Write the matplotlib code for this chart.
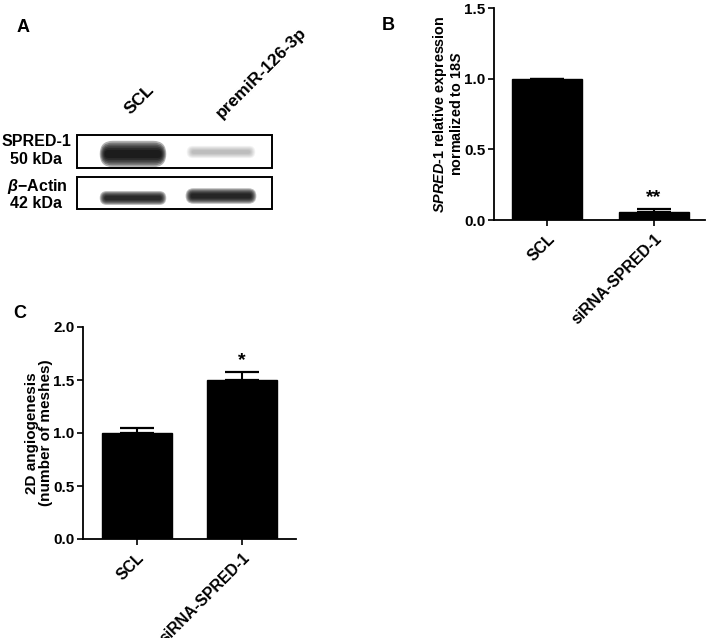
import matplotlib
matplotlib.use("Agg")
import matplotlib.pyplot as plt
from matplotlib.patches import Rectangle, FancyBboxPatch

plt.rcParams['font.family'] = ['Liberation Sans', 'DejaVu Sans']
plt.rcParams['font.sans-serif'] = ['Liberation Sans']
plt.rcParams['font.weight'] = 'bold'
plt.rcParams['mathtext.fontset'] = 'custom'
plt.rcParams['mathtext.it'] = 'Liberation Sans:italic:bold'

# panel A - western blot
lanes = ["SCL", "premiR-126-3p"]
spred_intensity = [1.0, 0.16]
actin_intensity = [0.85, 0.9]

# panel B - qPCR
groups = ["SCL", "siRNA-SPRED-1"]
b_values = [1.0, 0.057]
b_errors = [0.0, 0.021]
b_sig = ["", "**"]

# panel C - 2D angiogenesis
c_values = [1.0, 1.5]
c_errors = [0.05, 0.075]
c_sig = ["", "*"]

W, H = 709, 638
fig = plt.figure(figsize=(W / 100, H / 100), dpi=100)

# overlay axes in pixel units for the blot and the panel letters
ov = fig.add_axes([0, 0, 1, 1])
ov.set_xlim(0, W)
ov.set_ylim(H, 0)
ov.axis('off')
ov.patch.set_alpha(0)

for lab, (x, y) in zip("ABC", [(23, 27), (388, 25), (20, 313)]):
    ov.text(x, y, lab, fontsize=13, fontweight='bold', ha='center', va='center')

# blot frames
boxes = [(135, 168), (177, 209)]
for top, bot in boxes:
    ov.add_patch(Rectangle((77, top), 195, bot - top, fill=False, lw=1.4, ec='black', zorder=3))

lane_x = [133, 221]
row_info = [
    (spred_intensity, [154, 152], [64, 66], [17, 8]),
    (actin_intensity, [198, 196], [64, 68], [9, 10]),
]


def band(cx, cy, w, h, a):
    # fuzzy band: stacked rounded boxes, darker toward the middle
    for k in range(6):
        grow = 1.0 - k * 0.16
        ww = w * (1.04 - k * 0.03)
        hh = h * (1.35 * grow + 0.2)
        ov.add_patch(FancyBboxPatch((cx - ww / 2, cy - hh / 2), ww, hh,
                                    boxstyle=f"round,pad=0,rounding_size={hh / 2:.1f}",
                                    fc='black', lw=0, alpha=min(1, a * 0.3)))


for inten, ys, ws, hs in row_info:
    for i, lx in enumerate(lane_x):
        band(lx, ys[i], ws[i], hs[i], inten[i])

ov.text(36, 141, "SPRED-1", fontsize=11.5, fontweight='bold', ha='center', va='center')
ov.text(36, 159, "50 kDa", fontsize=11.5, fontweight='bold', ha='center', va='center')
ov.text(37, 187, r"$\mathit{\beta}$$-$Actin", fontsize=11.5, fontweight='bold', ha='center', va='center')
ov.text(36, 204, "42 kDa", fontsize=11.5, fontweight='bold', ha='center', va='center')

lane_label_pos = [(131, 115), (222, 119)]
for lab, (x, y) in zip(lanes, lane_label_pos):
    ov.text(x, y, lab, fontsize=12.5, fontweight='bold', rotation=45,
            rotation_mode='anchor', ha='left', va='baseline')


def bar_panel(rect, values, errors, sig, ylim, yticks, ylabel, xlim, ylab_size):
    ax = fig.add_axes(rect)
    x = list(range(len(groups)))
    ax.bar(x, values, width=0.66, color='black', edgecolor='black', lw=1, zorder=2)
    ax.errorbar(x, values, yerr=[[0] * len(errors), errors], fmt='none',
                ecolor='black', elinewidth=1.5, capsize=12.5, capthick=1.6, zorder=1)
    for xi, v, e, s in zip(x, values, errors, sig):
        if s:
            ax.text(xi, v + e + ylim[1] * 0.012, s, ha='center', va='bottom',
                    fontsize=14, fontweight='bold')
    ax.set_xlim(*xlim)
    ax.set_ylim(*ylim)
    ax.set_yticks(yticks)
    ax.set_yticklabels([f"{t:.1f}" for t in yticks])
    ax.set_xticks(x)
    ax.set_xticklabels(groups, rotation=45, ha='right', rotation_mode='anchor')
    for sp in ['top', 'right']:
        ax.spines[sp].set_visible(False)
    for sp in ['left', 'bottom']:
        ax.spines[sp].set_linewidth(1.3)
    ax.tick_params(axis='both', direction='out', length=4, width=1.2, pad=2)
    ax.tick_params(axis='y', labelsize=11)
    ax.tick_params(axis='x', labelsize=11.3, pad=4)
    for t in ax.get_xticklabels() + ax.get_yticklabels():
        t.set_fontweight('bold')
    ax.set_ylabel(ylabel, fontsize=ylab_size, fontweight='bold', linespacing=1.0, labelpad=0)
    ax.patch.set_alpha(0)
    return ax


bar_panel([494 / W, 1 - 220 / H, 211 / W, 212 / H], b_values, b_errors, b_sig,
          (0, 1.5), [0, 0.5, 1.0, 1.5],
          r"$\mathit{SPRED}$-$\mathit{1}$ relative expression" + "\n" + r"normalized to $\mathit{18S}$",
          (-0.5, 1.48), 10.4)

bar_panel([83 / W, 1 - 539 / H, 213 / W, 212 / H], c_values, c_errors, c_sig,
          (0, 2.0), [0, 0.5, 1.0, 1.5, 2.0],
          "2D angiogenesis\n(number of meshes)",
          (-0.51, 1.51), 11)

fig.savefig("out.png", dpi=100)
